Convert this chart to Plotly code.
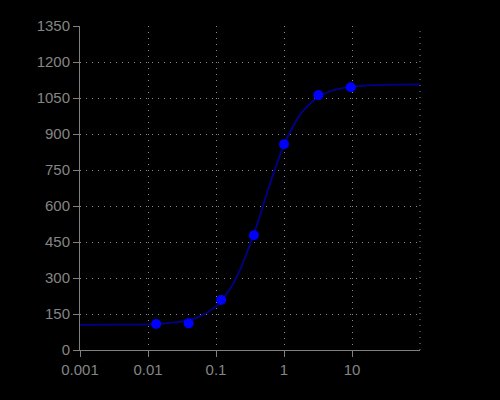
import plotly.graph_objects as go

# measured points
conc = [0.0132, 0.0396, 0.119, 0.361, 1.0, 3.2, 9.6]
signal = [108, 111, 208, 478, 857, 1062, 1095]

# fitted curve
curve_x = [0.001, 0.00316, 0.01, 0.0178, 0.0316, 0.0562, 0.1, 0.133, 0.178, 0.237,
           0.316, 0.422, 0.562, 0.75, 1.0, 1.33, 1.78, 2.37, 3.16, 4.22, 5.62,
           10.0, 17.8, 31.6, 100.0]
curve_y = [105, 105.5, 107, 111, 119, 138, 182, 222, 275, 348,
           439, 540, 655, 760, 855, 927, 986, 1024, 1053, 1072, 1084,
           1097, 1103, 1105, 1107]

x_tickvals = [0.001, 0.01, 0.1, 1, 10]
x_ticktext = ["0.001", "0.01", "0.1", "1", "10"]
y_tickvals = [0, 150, 300, 450, 600, 750, 900, 1050, 1200, 1350]

fig = go.Figure()
fig.add_trace(go.Scatter(x=curve_x, y=curve_y, mode="lines",
                         line=dict(color="#00008c", width=1.8, shape="spline"),
                         hoverinfo="skip", showlegend=False))
fig.add_trace(go.Scatter(x=conc, y=signal, mode="markers",
                         marker=dict(color="#0000ff", size=10),
                         showlegend=False))

axis_common = dict(
    showline=True, linecolor="#808080", linewidth=1,
    ticks="outside", ticklen=6, tickcolor="#808080",
    showgrid=True, gridcolor="#8a8a8a", gridwidth=1, griddash="1px,5px",
    zeroline=False,
    tickfont=dict(family="Liberation Sans Narrow, Liberation Sans, sans-serif",
                  size=15, color="#858585"),
)

fig.update_xaxes(type="log", range=[-3, 2], tickvals=x_tickvals, ticktext=x_ticktext,
                 **axis_common)
fig.update_yaxes(range=[0, 1350], tickvals=y_tickvals, **axis_common)

fig.add_shape(type="line", xref="paper", yref="paper", x0=1, x1=1, y0=0, y1=1,
              line=dict(color="#8a8a8a", width=1, dash="1px,5px"))

fig.update_layout(
    width=500, height=400,
    margin=dict(l=80, r=80, t=26, b=50),
    paper_bgcolor="#000000", plot_bgcolor="#000000",
    showlegend=False,
)

fig.write_html("out.html", config={"displayModeBar": False},
               post_script="document.body.style.margin='0';document.body.style.background='#000';")
